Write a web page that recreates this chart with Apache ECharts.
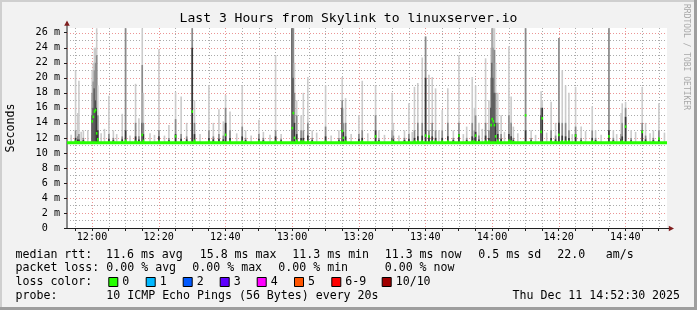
<!DOCTYPE html>
<html><head><meta charset="utf-8">
<script src="https://cdn.jsdelivr.net/npm/echarts@6/dist/echarts.min.js"></script>
<style>html,body{margin:0;padding:0;background:#f2f2f2}#c{width:697px;height:310px}</style>
</head><body><div id="c"></div>
<script>
// ---------- data ----------
const titleText = 'Last 3 Hours from Skylink to linuxserver.io';
const startTime = '11:52:30';
const endTime = '14:52:30';
const stepSeconds = 20;
const xTickLabels = ['12:00','12:20','12:40','13:00','13:20','13:40','14:00','14:20','14:40'];
const yLabelValues = [0,2,4,6,8,10,12,14,16,18,20,22,24,26];
const yMax = 26.63;            // top of plot, ms
const smokeLow = 11.3;         // lowest ping, ms
const medianBaseline = 11.35;  // median between spikes, ms

const smokeTimes = ['11:54:50','11:55:30','11:55:50','11:57:10','11:59:50','12:00:10','12:00:30','12:00:50','12:01:10','12:01:30',
 '12:04:50','12:06:10','12:08:50','12:09:50','12:12:50','12:13:50','12:14:50','12:15:10','12:19:50','12:22:50',
 '12:24:50','12:26:30','12:28:10','12:29:50','12:30:30','12:34:50','12:36:10','12:37:50','12:39:10','12:39:50',
 '12:41:10','12:44:50','12:45:50','12:49:50','12:51:10','12:54:50','12:56:30','12:59:50','13:00:10','13:00:30',
 '13:01:10','13:02:30','13:03:10','13:04:30','13:05:50','13:09:50','13:13:50','13:14:50','13:15:10','13:15:50',
 '13:19:50','13:20:50','13:24:50','13:25:50','13:29:50','13:30:10','13:33:30','13:34:50','13:36:30','13:37:30',
 '13:38:50','13:39:50','13:40:50','13:41:50','13:42:50','13:44:50','13:46:30','13:48:10','13:49:50','13:52:10',
 '13:53:50','13:54:30','13:54:50','13:55:50','13:57:50','13:58:50','13:59:30','13:59:50','14:00:10','14:00:30',
 '14:00:50','14:01:30','14:02:30','14:04:50','14:05:30','14:06:10','14:09:50','14:11:30','14:14:30','14:14:50',
 '14:17:30','14:18:50','14:19:50','14:20:50','14:21:50','14:22:50','14:24:50','14:26:30','14:29:50','14:30:50',
 '14:34:50','14:36:10','14:38:30','14:38:50','14:39:50','14:41:30','14:44:50','14:45:50','14:48:10','14:49:50'];
const smokeMax = [21.0,15.3,19.6,13.0,21.0,22.0,24.0,24.0,26.6,19.0,
 17.6,13.0,15.2,26.6,19.2,14.6,26.6,18.0,23.8,13.7,
 18.1,17.5,14.0,26.6,17.0,19.0,14.0,15.8,14.2,17.7,
 15.5,19.0,13.0,14.4,12.8,23.0,12.5,26.6,26.6,22.0,
 17.0,15.0,18.0,20.1,13.0,19.0,13.0,20.1,16.0,17.3,
 15.0,19.6,19.0,13.0,18.0,14.0,13.0,16.6,18.8,19.3,
 22.7,25.5,20.4,20.1,18.6,15.7,18.6,13.0,23.0,13.5,
 20.1,16.0,19.0,14.0,22.6,17.0,24.0,26.6,26.6,26.6,
 22.0,18.0,15.0,24.2,17.5,13.5,26.6,13.0,18.2,17.0,
 16.8,14.0,25.3,21.0,19.0,18.0,18.8,13.5,16.2,13.0,
 26.6,13.0,15.3,16.6,16.8,13.0,18.8,14.0,13.0,16.6];
const smokeMid = [13.0,12.2,12.5,12.0,18.0,19.5,21.0,22.0,23.0,15.0,
 12.5,12.0,12.2,26.6,14.0,12.2,21.7,14.0,13.0,12.0,
 14.5,12.5,12.2,26.6,14.0,13.0,12.2,12.5,12.3,16.0,
 13.0,13.5,12.0,12.5,12.0,13.0,11.9,26.6,26.6,18.0,
 15.0,13.0,13.0,14.0,12.0,13.5,12.0,17.0,14.0,14.0,
 12.5,13.0,15.0,12.0,13.0,12.3,12.0,12.5,13.0,14.0,
 14.0,25.5,13.0,14.0,13.0,13.0,14.0,12.0,14.0,12.0,
 14.0,13.0,15.0,12.3,14.0,13.0,20.0,26.6,24.0,23.7,
 18.0,14.0,12.5,15.0,14.0,12.0,26.6,12.0,16.0,16.0,
 13.0,12.3,25.3,14.0,14.0,13.0,13.5,12.0,13.0,12.0,
 26.6,12.0,12.5,14.0,16.0,12.0,14.0,12.3,12.0,13.0];
const smokeDark = [12.0,11.8,11.8,11.7,15.0,16.0,18.6,17.0,16.0,13.0,
 11.9,11.7,11.8,13.0,12.2,11.8,14.0,12.5,12.2,11.7,
 12.5,11.9,11.8,24.0,12.5,12.0,11.8,11.9,11.8,14.0,
 12.0,12.2,11.7,11.9,11.7,12.2,11.7,26.6,20.0,14.0,
 12.5,12.0,12.0,12.3,11.7,12.2,11.7,16.0,12.8,12.2,
 11.9,12.0,13.0,11.7,12.0,11.8,11.7,11.9,12.0,12.2,
 12.3,20.0,12.2,12.2,12.0,12.0,12.2,11.7,12.5,11.7,
 12.2,12.0,12.8,11.8,12.3,12.0,16.0,22.0,20.0,18.0,
 14.0,12.5,11.9,12.5,12.2,11.7,13.0,11.7,15.0,16.0,
 12.0,11.8,14.0,12.3,12.2,12.0,12.5,11.7,12.0,11.7,
 13.0,11.7,11.9,12.2,14.8,11.7,13.0,11.8,11.7,12.0];
const smokeMedian = [11.5,11.4,11.4,11.4,14.2,14.8,15.5,15.7,12.6,11.8,
 11.4,11.4,11.4,11.6,11.5,11.4,12.4,11.6,11.5,11.4,
 12.2,11.4,11.4,15.5,11.6,11.5,11.4,11.4,11.4,12.4,
 11.5,11.5,11.4,11.5,11.4,11.5,11.4,13.3,15.3,12.0,
 11.6,11.5,11.5,11.5,11.4,11.5,11.4,12.9,12.0,11.5,
 11.4,11.5,12.2,11.4,11.5,11.4,11.4,11.4,11.5,11.5,
 11.5,12.3,12.2,11.5,11.5,11.5,11.5,11.4,12.3,11.4,
 11.5,11.5,12.3,11.4,11.5,11.5,13.7,14.5,14.2,13.7,
 12.2,11.6,11.4,11.6,11.5,11.4,15.0,11.4,12.8,14.6,
 11.5,11.4,12.4,11.5,11.5,11.5,12.3,11.4,11.5,11.4,
 12.2,11.4,11.4,11.5,13.5,11.4,12.8,11.4,11.4,11.9];

// small light-grey smoke just above the median line between the spikes
const fuzzTimes = ['11:53:30','11:56:30','11:58:30','12:02:30','12:03:30','12:07:10','12:11:10','12:17:10','12:18:30','12:21:30',
 '12:32:10','12:43:10','12:47:30','12:53:10','13:07:10','13:11:30','13:17:30','13:22:30','13:27:30','13:31:50',
 '13:35:50','13:43:50','13:51:10','13:56:50','14:03:30','14:07:30','14:12:50','14:16:10','14:23:50','14:27:50',
 '14:32:30','14:37:10','14:42:50','14:47:10','14:51:30'];
const fuzzMax = [12.4,12.8,13.0,12.6,13.2,12.5,12.3,12.6,12.4,12.3,
 12.5,12.6,12.3,12.4,12.7,12.3,12.5,12.6,12.4,12.3,
 12.8,13.0,12.5,13.2,12.8,12.6,12.4,12.7,12.5,12.9,
 12.4,12.5,12.8,12.6,12.7];

const rttValues = [11.6, 15.8, 11.3, 11.3];
const rttNames = ['avg','max','min','now'];
const rttSd = 0.5;
const amPerSec = 22.0;
const lossValues = [0.00, 0.00, 0.00, 0.00];
const lossNames = ['avg','max','min','now'];
const lossColorLabels = ['0','1','2','3','4','5','6-9','10/10'];
const lossColors = ['#26ff00','#00b8ff','#0059ff','#5e00ff','#ff00ff','#ff5500','#ff0000','#a10000'];
const probeText = '10 ICMP Echo Pings (56 Bytes) every 20s';
const dateText = 'Thu Dec 11 14:52:30 2025';

// ---------- build ----------
function toSec(s){const p=s.split(':').map(Number);return p[0]*3600+p[1]*60+(p[2]||0);}
function fmt(sec){const h=Math.floor(sec/3600),m=Math.floor(sec%3600/60);return h+':'+String(m).padStart(2,'0');}
const t0 = toSec(startTime), t1 = toSec(endTime);
const xLabelValues = xTickLabels.map(toSec);
const xMinorValues = [];
for (let t = Math.ceil(t0/300)*300; t < t1; t += 300) xMinorValues.push(t);

const gridItems = [];
xMinorValues.forEach(t => gridItems.push([t, 0, (t % 1200 === 0) ? 1 : 0]));
for (let v = 1; v <= Math.floor(yMax); v++) gridItems.push([t0, v, (v % 2 === 0) ? 3 : 2]);

const smokeData = smokeTimes.map((s,i)=>[toSec(s), smokeMax[i], smokeMid[i], smokeDark[i]])
  .concat(fuzzTimes.map((s,i)=>[toSec(s), fuzzMax[i], smokeLow, smokeLow]));
const medianData = smokeTimes.map((s,i)=>[toSec(s), smokeMedian[i]]);

const FONT = 'DejaVu Sans Mono';
const chart = echarts.init(document.getElementById('c'), null, {renderer:'canvas'});

const graphics = [];
graphics.push({type:'rect', shape:{x:0,y:0,width:697,height:2}, style:{fill:'#cfcfcf'}, silent:true});
graphics.push({type:'rect', shape:{x:0,y:0,width:2,height:310}, style:{fill:'#cfcfcf'}, silent:true});
graphics.push({type:'rect', shape:{x:694,y:0,width:3,height:310}, style:{fill:'#9e9e9e'}, silent:true});
graphics.push({type:'rect', shape:{x:0,y:307,width:697,height:3}, style:{fill:'#9e9e9e'}, silent:true});
graphics.push({type:'text', x:348.5, y:19, style:{text:titleText, font:'13.05px "'+FONT+'"', fill:'#000', textAlign:'center', textVerticalAlign:'middle'}});
graphics.push({type:'text', x:11, y:128, rotation:Math.PI/2, style:{text:'Seconds', font:'11.6px "'+FONT+'"', fill:'#000', textAlign:'center', textVerticalAlign:'middle'}});
graphics.push({type:'text', x:686, y:4, rotation:-Math.PI/2, style:{text:'RRDTOOL / TOBI OETIKER', font:'8px "'+FONT+'"', fill:'#a8a8a8', textAlign:'left', textVerticalAlign:'middle'}});
graphics.push({type:'line', shape:{x1:67,y1:22,x2:67,y2:28}, style:{stroke:'#8a8a8a', lineWidth:2}});
graphics.push({type:'polygon', shape:{points:[[67,20.5],[64.2,25.8],[69.8,25.8]]}, style:{fill:'#801f1f'}});
graphics.push({type:'line', shape:{x1:667,y1:228.5,x2:670,y2:228.5}, style:{stroke:'#1f1f1f', lineWidth:1}});
graphics.push({type:'polygon', shape:{points:[[674,228.5],[668.8,225.8],[668.8,231.2]]}, style:{fill:'#801f1f'}});

function txt(x,y,s){graphics.push({type:'text', x:x, y:y, style:{text:s, font:'11.6px "'+FONT+'"', fill:'#000', textAlign:'left', textVerticalAlign:'middle'}});}
const r1 = 254.5, r2 = 268.2, r3 = 281.9, r4 = 295.6;
txt(15.5, r1, 'median rtt:');
const rttX = [106, 199.7, 292.3, 384.7];
rttValues.forEach((v,i)=>txt(rttX[i], r1, v.toFixed(1)+' ms '+rttNames[i]));
txt(478.3, r1, rttSd.toFixed(1)+' ms sd');
txt(557.3, r1, amPerSec.toFixed(1));
txt(605.7, r1, 'am/s');
txt(15.5, r2, 'packet loss:');
const lossX = [106.3, 192.3, 278.3, 384.7];
lossValues.forEach((v,i)=>txt(lossX[i], r2, v.toFixed(2)+' % '+lossNames[i]));
txt(15.5, r3, 'loss color:');
const boxX = [108.3,145.7,182.7,219.7,256.7,294,331.3,381.7];
lossColorLabels.forEach((l,i)=>{
  graphics.push({type:'rect', shape:{x:boxX[i]+0.5, y:277.5, width:9, height:9}, style:{fill:lossColors[i], stroke:'#000', lineWidth:1}});
  txt(boxX[i]+14, r3, l);
});
txt(15.5, r4, 'probe:');
txt(106.3, r4, probeText);
txt(512.5, r4, dateText);

const option = {
  backgroundColor:'#f2f2f2',
  animation:false,
  textStyle:{fontFamily:FONT},
  grid:{left:67, top:28, width:600, height:200, show:true, backgroundColor:'#ffffff', borderWidth:0, containLabel:false, outerBoundsMode:'none'},
  xAxis:{type:'value', min:t0, max:t1,
    axisLine:{show:true, lineStyle:{color:'#1f1f1f', width:1}},
    axisTick:{show:true, length:3, customValues:xMinorValues, lineStyle:{color:'#1f1f1f'}},
    axisLabel:{show:true, customValues:xLabelValues, formatter:v=>fmt(v), fontFamily:FONT, fontSize:10.15, color:'#000', margin:4},
    splitLine:{show:false}},
  yAxis:{type:'value', min:0, max:yMax,
    axisLine:{show:true, lineStyle:{color:'#8a8a8a', width:2}},
    axisTick:{show:true, length:3, customValues:yLabelValues, lineStyle:{color:'#1f1f1f'}},
    axisLabel:{show:true, customValues:yLabelValues, formatter:v=> v===0 ? '0  ' : v+' m', fontFamily:FONT, fontSize:10.15, color:'#000', margin:7, showMaxLabel:true},
    splitLine:{show:false}},
  series:[
    {type:'custom', name:'grid', z:1, silent:true, clip:true, data:gridItems,
      renderItem:(params, api)=>{
        const cs = params.coordSys; const kind = api.value(2);
        let shape;
        if (kind < 2) { const x = Math.round(api.coord([api.value(0), 0])[0]) + 0.5; shape = {x1:x, y1:cs.y, x2:x, y2:cs.y+cs.height}; }
        else { const y = Math.round(api.coord([t0, api.value(1)])[1]) + 0.5; shape = {x1:cs.x, y1:y, x2:cs.x+cs.width, y2:y}; }
        return {type:'line', shape:shape, style:{stroke: (kind % 2) ? 'rgba(222,79,79,0.6)' : 'rgba(143,143,143,0.75)', lineWidth:1, lineDash:[1,2]}};
      }},
    {type:'custom', name:'smoke', z:3, silent:true, clip:true, data:smokeData,
      encode:{x:0, y:[1,2,3]},
      renderItem:(params, api)=>{
        const t = api.value(0);
        const x0 = api.coord([t, 0])[0];
        const x1 = api.coord([t + stepSeconds, 0])[0];
        const w = Math.max(x1 - x0, 1.6);
        const yLo = api.coord([t, smokeLow])[1];
        const children = [];
        [[1,'#cbcbcb'],[2,'#8a8a8a'],[3,'#383838']].forEach(([i,c])=>{
          const yh = api.coord([t, api.value(i)])[1];
          if (yLo - yh > 0.3) children.push({type:'rect', shape:{x:x0, y:yh, width:w, height:yLo-yh}, style:{fill:c}});
        });
        return {type:'group', children:children};
      }},
    {type:'line', name:'medianBase', z:4, silent:true, symbol:'none', data:[[t0, medianBaseline],[t1, medianBaseline]],
      lineStyle:{color:'#26ff00', width:2.8}},
    {type:'custom', name:'median', z:5, silent:true, clip:true, data:medianData,
      encode:{x:0, y:1},
      renderItem:(params, api)=>{
        const t = api.value(0);
        const p = api.coord([t, api.value(1)]);
        const x1 = api.coord([t + stepSeconds, 0])[0];
        const w = Math.max(x1 - p[0], 1.6);
        return {type:'rect', shape:{x:p[0], y:p[1]-1.3, width:w, height:2.6}, style:{fill:'#26ff00'}};
      }}
  ],
  graphic:graphics
};
chart.setOption(option);
</script></body></html>
